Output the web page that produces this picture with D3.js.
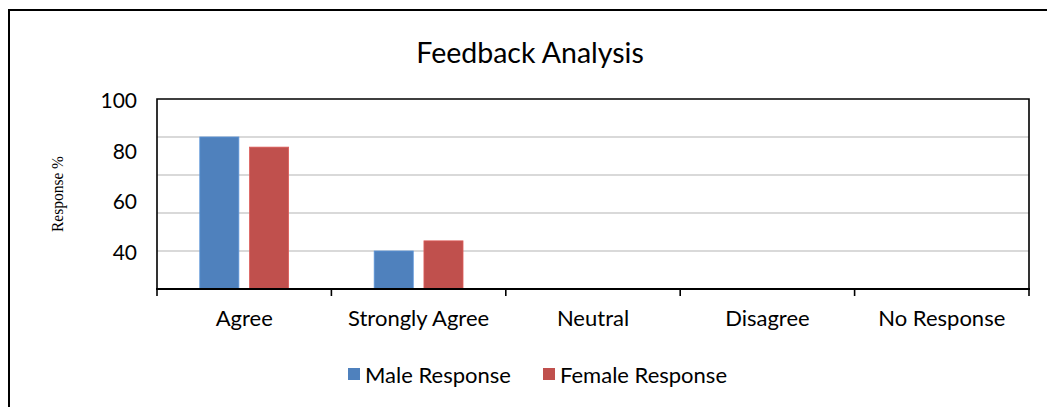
<!DOCTYPE html>
<html>
<head>
<meta charset="utf-8">
<script src="https://cdn.jsdelivr.net/npm/d3@7"></script>
<style>
  html, body { margin: 0; padding: 0; background: #fff; }
  svg { display: block; }
</style>
</head>
<body>
<svg id="chart" width="1047" height="407"></svg>
<script>
// Survey responses (%) per answer category
const categories = ["Agree", "Strongly Agree", "Neutral", "Disagree", "No Response"];
const seriesNames = ["Male Response", "Female Response"];
const maleValues = [85, 40, 0, 0, 0];
const femaleValues = [81, 44, 0, 0, 0];
const yTickLabels = [40, 60, 80, 100];
const yGridValues = [40, 55, 70, 85];
const seriesColors = ["#4F81BD", "#C0504D"];

const svg = d3.select("#chart");
const W = 1047, H = 407;
const plot = { left: 157, right: 1029, top: 99, bottom: 289 };
const sans = "Lato, 'Open Sans', sans-serif";

// outer chart frame (runs off the right and bottom edges)
svg.append("rect")
  .attr("x", 9).attr("y", 10)
  .attr("width", W + 20).attr("height", H + 20)
  .attr("fill", "none").attr("stroke", "#000").attr("stroke-width", 2);

// title
svg.append("text")
  .attr("x", 530).attr("y", 63)
  .attr("text-anchor", "middle")
  .attr("font-family", sans)
  .attr("font-size", 28.5)
  .attr("fill", "#000")
  .text("Feedback Analysis");

const x0 = d3.scaleBand().domain(categories).range([plot.left, plot.right]);
const x1 = d3.scaleBand().domain(seriesNames).range([0, x0.bandwidth()])
  .paddingInner(0.215).paddingOuter(0.86);
const y = d3.scaleLinear().domain([25, 100]).range([plot.bottom, plot.top]).clamp(true);

// horizontal gridlines
svg.append("g").selectAll("line").data(yGridValues).join("line")
  .attr("x1", plot.left).attr("x2", plot.right)
  .attr("y1", d => y(d)).attr("y2", d => y(d))
  .attr("stroke", "#D9D9D9").attr("stroke-width", 2);

// bars
const rows = categories.map((c, i) => ({ cat: c, vals: [maleValues[i], femaleValues[i]] }));
const groups = svg.append("g").selectAll("g").data(rows).join("g")
  .attr("transform", d => `translate(${x0(d.cat)},0)`);
groups.selectAll("rect")
  .data(d => d.vals.map((v, j) => ({ key: seriesNames[j], v, j })))
  .join("rect")
  .attr("x", d => x1(d.key))
  .attr("width", x1.bandwidth())
  .attr("y", d => y(d.v))
  .attr("height", d => y(25) - y(d.v))
  .attr("fill", d => seriesColors[d.j])
  .attr("stroke", d => d3.color(seriesColors[d.j]).brighter(0.4))
  .attr("stroke-width", 0.8);

// plot frame: top, left, right
svg.append("path")
  .attr("d", `M${plot.left},${plot.bottom} V${plot.top} H${plot.right} V${plot.bottom}`)
  .attr("fill", "none").attr("stroke", "#000").attr("stroke-width", 1.6);

// y axis labels
const yAxis = svg.append("g")
  .attr("transform", `translate(${plot.left},0)`)
  .call(d3.axisLeft(y).tickValues(yTickLabels).tickSize(0).tickPadding(20));
yAxis.select(".domain").remove();
yAxis.selectAll("text")
  .attr("font-family", sans)
  .attr("font-size", 21)
  .attr("fill", "#000")
  .attr("dy", "0.4em");

// x axis line and category boundary ticks
svg.append("line")
  .attr("x1", plot.left - 1).attr("x2", plot.right + 1)
  .attr("y1", plot.bottom).attr("y2", plot.bottom)
  .attr("stroke", "#000").attr("stroke-width", 2.2);
const boundaries = categories.map(c => x0(c)).concat([x0.range()[1]]);
svg.append("g").selectAll("line").data(boundaries).join("line")
  .attr("x1", d => d).attr("x2", d => d)
  .attr("y1", plot.bottom).attr("y2", plot.bottom + 7)
  .attr("stroke", "#000").attr("stroke-width", 1.6);

// category labels
svg.append("g").selectAll("text").data(categories).join("text")
  .attr("x", d => x0(d) + x0.bandwidth() / 2)
  .attr("y", 326)
  .attr("text-anchor", "middle")
  .attr("font-family", sans)
  .attr("font-size", 22)
  .attr("fill", "#000")
  .text(d => d);

// y axis title
svg.append("text")
  .attr("transform", "translate(63,194) rotate(-90)")
  .attr("text-anchor", "middle")
  .attr("font-family", "'Liberation Serif', 'DejaVu Serif', serif")
  .attr("font-size", 17.5)
  .attr("textLength", 76)
  .attr("lengthAdjust", "spacingAndGlyphs")
  .attr("fill", "#000")
  .text("Response %");

// legend
const legendX = [348, 543];
const legend = svg.append("g").selectAll("g").data(seriesNames).join("g")
  .attr("transform", (d, i) => `translate(${legendX[i]},368)`);
legend.append("rect")
  .attr("width", 12).attr("height", 12)
  .attr("fill", (d, i) => seriesColors[i]);
legend.append("text")
  .attr("x", 17).attr("y", 15)
  .attr("font-family", sans)
  .attr("font-size", 22)
  .attr("fill", "#000")
  .text(d => d);
</script>
</body>
</html>
